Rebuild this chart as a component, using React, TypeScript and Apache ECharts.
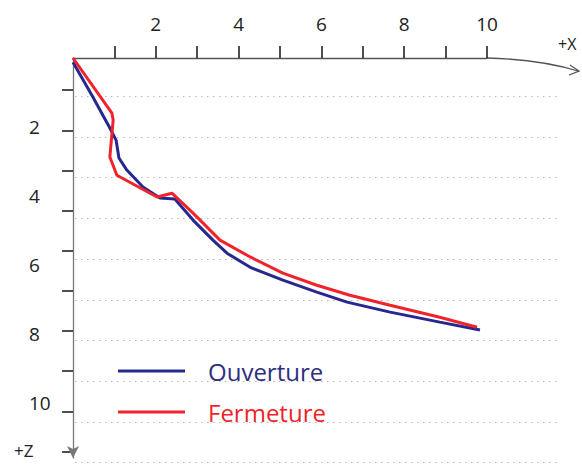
import React, { useEffect, useRef } from "react";
import * as echarts from "echarts";

// Ouverture (blue) — x then depth z
const blueX = [0, 0.48, 0.89, 1.04, 1.11, 1.3, 1.69, 2.1, 2.46, 2.9, 3.38, 3.72, 4.28, 5.07, 5.89, 6.62, 7.66, 8.86, 9.83];
const blueZ = [0.12, 1.13, 2.03, 2.38, 2.9, 3.25, 3.74, 4.06, 4.09, 4.7, 5.28, 5.66, 6.07, 6.44, 6.79, 7.08, 7.37, 7.66, 7.89];
// Fermeture (red)
const redX = [0, 0.94, 0.97, 0.89, 1.06, 2.03, 2.39, 2.9, 3.07, 3.55, 4.28, 5.07, 5.89, 6.69, 7.66, 8.86, 9.76];
const redZ = [0, 1.6, 1.8, 2.87, 3.4, 4.03, 3.92, 4.5, 4.7, 5.28, 5.77, 6.24, 6.59, 6.88, 7.17, 7.52, 7.81];

const xLabels = [2, 4, 6, 8, 10];
const zLabels = [2, 4, 6, 8, 10];
const tickValues = [1, 2, 3, 4, 5, 6, 7, 8, 9, 10];
const seriesNames = ["Ouverture", "Fermeture"];
const BLUE = "#26288f";
const RED = "#f0232a";

export default function App() {
  const ref = useRef<HTMLDivElement>(null);
  useEffect(() => {
    if (!ref.current) return;
    const chart = echarts.init(ref.current, null, { renderer: "svg" });
    const font = "Open Sans";
    chart.setOption({
      animation: false,
      backgroundColor: "#ffffff",
      textStyle: { fontFamily: font },
      grid: [
        { left: 73, top: 58, width: 414, height: 400 },
        { left: 73, top: 50, width: 414, height: 401.5 },
        { left: 75, top: 55.6, width: 485, height: 407 },
      ],
      xAxis: [
        {
          gridIndex: 0,
          type: "value",
          position: "top",
          min: 0,
          max: 10,
          interval: 1,
          axisLine: { show: true, lineStyle: { color: "#555", width: 1.3 } },
          axisTick: { show: true, customValues: tickValues, length: 12, lineStyle: { color: "#222", width: 1.6 } },
          axisLabel: {
            show: true,
            margin: 25,
            fontSize: 19,
            color: "#222",
            fontFamily: font,
            formatter: (v: number) => (xLabels.includes(v) ? String(v) : ""),
          },
          splitLine: { show: false },
        },
        { gridIndex: 1, type: "value", min: 0, max: 10, show: false },
        { gridIndex: 2, type: "value", min: 0, max: 10, show: false },
      ],
      yAxis: [
        {
          gridIndex: 0,
          type: "value",
          inverse: true,
          min: 0,
          max: 11.6,
          interval: 2,
          axisLine: {
            show: true,
            symbol: ["arrow", "none"],
            symbolSize: [9, 12],
            lineStyle: { color: "#777", width: 1.3 },
          },
          axisTick: { show: false },
          axisLabel: {
            show: true,
            align: "left",
            margin: 44,
            fontSize: 19,
            color: "#222",
            fontFamily: font,
            formatter: (v: number) => (zLabels.includes(v) ? String(v) : ""),
          },
          splitLine: { show: false },
        },
        {
          gridIndex: 1,
          type: "value",
          inverse: true,
          min: 0,
          max: 10,
          interval: 1,
          axisLine: { show: false },
          axisTick: { show: true, customValues: tickValues, length: 11, lineStyle: { color: "#222", width: 1.6 } },
          axisLabel: { show: false },
          splitLine: { show: false },
        },
        {
          gridIndex: 2,
          type: "value",
          inverse: true,
          min: 0,
          max: 10,
          interval: 1,
          axisLine: { show: false },
          axisTick: { show: false },
          axisLabel: { show: false },
          splitLine: {
            show: true,
            showMinLine: false,
            lineStyle: { color: "#b8b8b8", width: 1.2, type: [1.5, 4.5] },
          },
        },
      ],
      legend: {
        orient: "vertical",
        left: 113,
        top: 352,
        icon: "rect",
        itemWidth: 67,
        itemHeight: 3,
        itemGap: 13,
        data: [
          { name: seriesNames[0], textStyle: { color: "#2d2f80" } },
          { name: seriesNames[1], textStyle: { color: RED } },
        ],
        textStyle: { fontSize: 24, fontFamily: font, lineHeight: 28, padding: [0, 0, 0, 18] },
      },
      series: [
        {
          name: seriesNames[0],
          type: "line",
          xAxisIndex: 0,
          yAxisIndex: 0,
          symbol: "none",
          color: BLUE,
          lineStyle: { color: BLUE, width: 3 },
          data: blueX.map((x, i) => [x, blueZ[i]]),
        },
        {
          name: seriesNames[1],
          type: "line",
          xAxisIndex: 0,
          yAxisIndex: 0,
          symbol: "none",
          color: RED,
          lineStyle: { color: RED, width: 3 },
          data: redX.map((x, i) => [x, redZ[i]]),
        },
      ],
      graphic: [
        {
          type: "bezierCurve",
          shape: { x1: 487, y1: 58, cpx1: 525, cpy1: 59, cpx2: 555, cpy2: 64, x2: 578, y2: 71 },
          style: { stroke: "#555", lineWidth: 1.3, fill: "none" },
        },
        {
          type: "polyline",
          shape: { points: [[570, 65], [579, 71], [569, 75]] },
          style: { stroke: "#555", lineWidth: 1.3, fill: "none" },
        },
        {
          type: "text",
          x: 558,
          y: 36,
          style: { text: "+X", fontSize: 16, fill: "#222", fontFamily: font },
        },
        {
          type: "text",
          x: 14,
          y: 442,
          style: { text: "+Z", fontSize: 17, fill: "#222", fontFamily: font },
        },
      ],
    });
    return () => chart.dispose();
  }, []);
  return (
    <div
      ref={ref}
      style={{ position: "absolute", left: 0, top: 0, width: 582, height: 468, background: "#fff" }}
    />
  );
}
